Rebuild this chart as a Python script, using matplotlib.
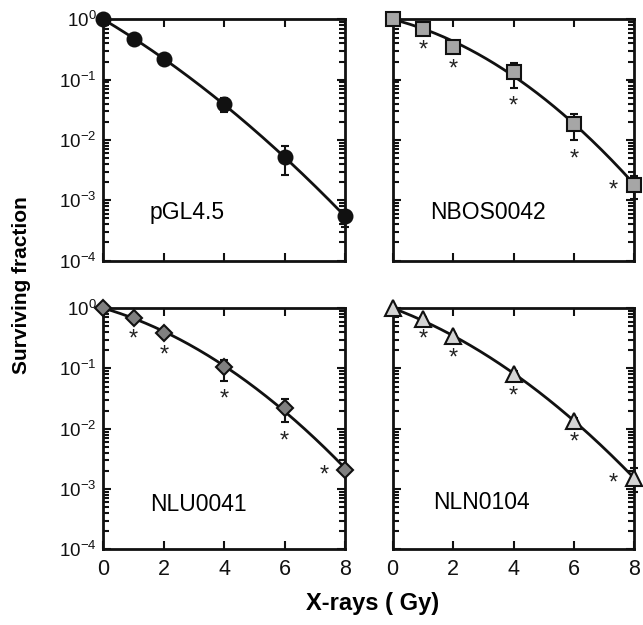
import numpy as np
import matplotlib
matplotlib.use("Agg")
import matplotlib.pyplot as plt
from matplotlib.ticker import LogLocator, NullFormatter


plt.rcParams["font.family"]=["Liberation Sans","DejaVu Sans"]
plt.rcParams["mathtext.fontset"]="custom"
plt.rcParams["mathtext.rm"]="Liberation Sans"
plt.rcParams["mathtext.it"]="Liberation Sans:italic"
plt.rcParams["mathtext.bf"]="Liberation Sans:bold"


DOSE=[0,1,2,4,6,8]

NAMES=["pGL4.5","NBOS0042","NLU0041","NLN0104"]

SURV={
	"pGL4.5":[1.0,0.48,0.22,0.039,0.0052,0.00054],
	"NBOS0042":[1.0,0.69,0.35,0.135,0.0187,0.00177],
	"NLU0041":[1.0,0.68,0.39,0.104,0.022,0.0021],
	"NLN0104":[1.0,0.665,0.34,0.081,0.0137,0.0015],
}
ERR_LO={
	"pGL4.5":[0,0.06,0.03,0.010,0.0026,0.00018],
	"NBOS0042":[0,0.05,0.04,0.061,0.0087,0.0007],
	"NLU0041":[0,0.05,0.04,0.041,0.0092,0.0003],
	"NLN0104":[0,0.04,0.03,0.008,0.0015,0.0006],
}
ERR_HI={
	"pGL4.5":[0,0.06,0.03,0.010,0.0027,0.00012],
	"NBOS0042":[0,0.05,0.04,0.055,0.0083,0.0008],
	"NLU0041":[0,0.05,0.04,0.035,0.009,0.0003],
	"NLN0104":[0,0.04,0.03,0.008,0.0015,0.0007],
}
# which doses carry an asterisk
STARS={
	"pGL4.5":[],
	"NBOS0042":[1,2,4,6,8],
	"NLU0041":[1,2,4,6,8],
	"NLN0104":[1,2,4,6,8],
}

STYLE={
	"pGL4.5":("o","#111111",10),
	"NBOS0042":("s","#a6a6a6",9.5),
	"NLU0041":("D","#808080",8.5),
	"NLN0104":("^","#d4d4d4",11),
}
LABEL_POS={
	"pGL4.5":(0.348,0.2),
	"NBOS0042":(0.393,0.2),
	"NLU0041":(0.392,0.188),
	"NLN0104":(0.369,0.195),
}

AXES_RECT=[
	[0.1607,0.583,0.376,0.386],
	[0.6107,0.583,0.376,0.386],
	[0.1607,0.121,0.376,0.386],
	[0.6107,0.121,0.376,0.386],
]


fig=plt.figure(figsize=(6.43,6.25),dpi=100)
for i,name in enumerate(NAMES):
	ax=fig.add_axes(AXES_RECT[i])
	d=np.array(DOSE,dtype=float)
	s=np.array(SURV[name])
	lo=np.array(ERR_LO[name])
	# linear-quadratic fit of the survival data
	A=np.column_stack([-d,-d**2])
	coef=np.linalg.lstsq(A,np.log(s),rcond=None)[0]
	xx=np.linspace(0,8,200)
	ax.plot(xx,np.exp(-coef[0]*xx-coef[1]*xx**2),"-",color="#111111",linewidth=2,zorder=2,clip_on=False)
	marker,fc,ms=STYLE[name]
	ax.errorbar(d,s,yerr=[lo,ERR_HI[name]],fmt="none",ecolor="#111111",elinewidth=1.5,capsize=3,capthick=1.5,zorder=3,clip_on=False)
	ax.plot(d,s,marker,markersize=ms,markerfacecolor=fc,markeredgecolor="#111111",markeredgewidth=1.5,linestyle="none",zorder=4,clip_on=False)
	for x in STARS[name]:
		k=DOSE.index(x)
		if (x==8):
			ax.annotate("*",(x,s[k]),xytext=(-15,-4),textcoords="offset points",ha="center",va="center",fontsize=17,color="#222222",annotation_clip=False)
		else:
			ax.annotate("*",(x,s[k]-lo[k]),xytext=(0,-14),textcoords="offset points",ha="center",va="center",fontsize=17,color="#222222",annotation_clip=False)
	ax.text(*LABEL_POS[name],name,transform=ax.transAxes,ha="center",va="center",fontsize=16.5)
	ax.set_yscale("log")
	ax.set_ylim(1e-4,1)
	ax.set_xlim(0,8)
	ax.set_xticks([0,2,4,6,8])
	ax.yaxis.set_major_locator(LogLocator(base=10,numticks=10))
	ax.yaxis.set_minor_locator(LogLocator(base=10,subs=np.arange(2,10),numticks=10))
	ax.yaxis.set_minor_formatter(NullFormatter())
	ax.tick_params(which="both",direction="in",top=True,right=True,width=1.5,colors="#111111")
	ax.tick_params(which="major",length=6)
	ax.tick_params(which="minor",length=4)
	ax.tick_params(axis="y",labelsize=13.5,pad=5)
	ax.tick_params(axis="x",labelsize=15.5,pad=7)
	for sp in ax.spines.values():
		sp.set_linewidth(2)
		sp.set_color("#111111")
	if (i%2==1):
		ax.set_yticklabels([])
	if (i<2):
		ax.set_xticklabels([])
fig.text(0.034,0.544,"Surviving fraction",rotation=90,ha="center",va="center",fontsize=15,fontweight="bold")
fig.text(0.579,0.035,"X-rays ( Gy)",ha="center",va="center",fontsize=17,fontweight="bold")
plt.savefig("out.png",dpi=100)
